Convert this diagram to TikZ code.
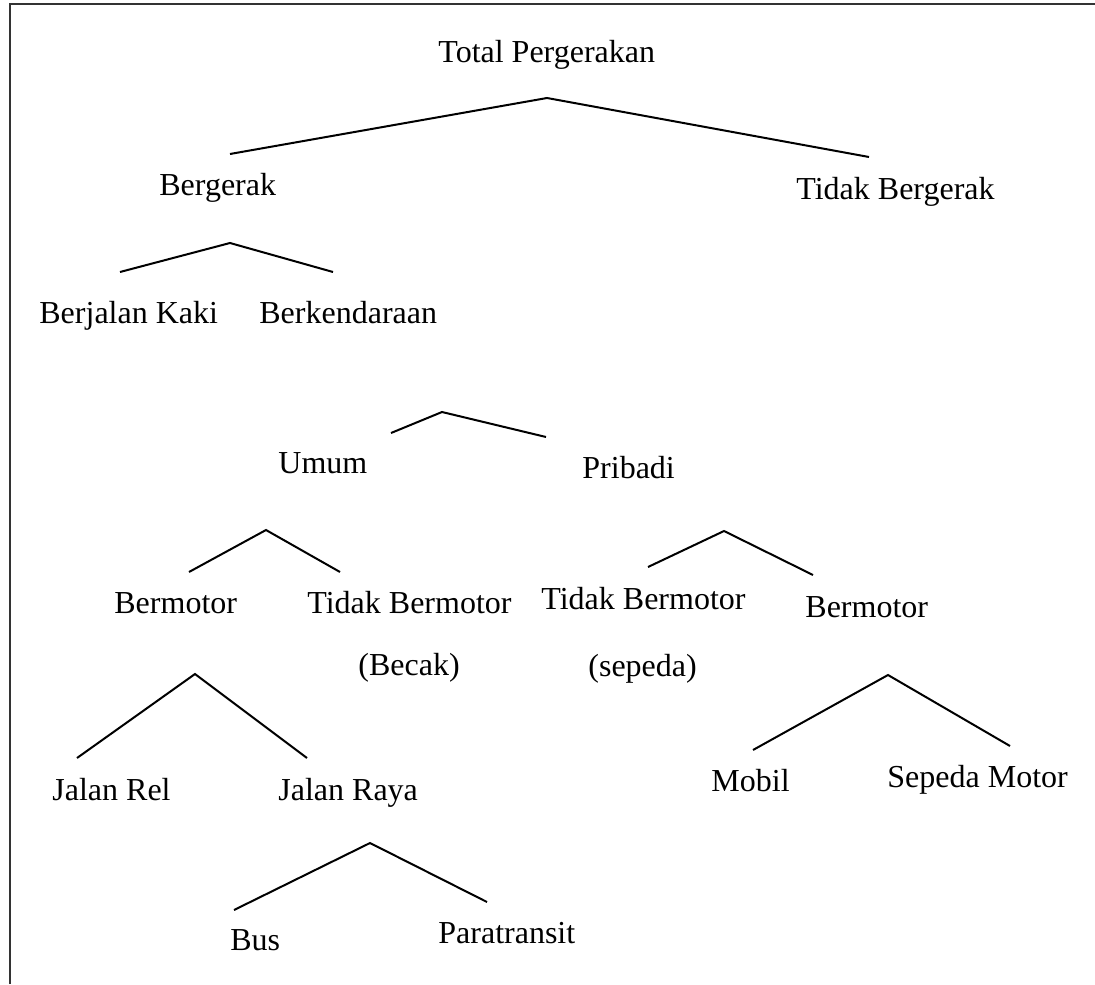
\documentclass[tikz,border=0pt]{standalone}
\usepackage{fontspec}
\setmainfont{Liberation Serif}
\usetikzlibrary{positioning}
\tikzstyle{lbl}=[anchor=base west, inner sep=0pt, font=\fontsize{16}{19}\selectfont]
\tikzstyle{fork}=[draw, line width=1pt]
\tikzstyle{frame}=[draw, line width=1.3pt, color=black!80]

\begin{document}
\begin{tikzpicture}[x=0.5pt, y=-0.5pt]
            \useasboundingbox (0,0) rectangle (1095,984);
            \draw[frame] (10,984) -- (10,4) -- (1095,4);
            % labels
            \node[lbl] (total) at (438,63) {Total Pergerakan};
            \node[lbl] (bergerak) at (159,195) {Bergerak};
            \node[lbl] (tidakbergerak) at (796,199) {Tidak Bergerak};
            \node[lbl] (jalankaki) at (39,323) {Berjalan Kaki};
            \node[lbl] (kendaraan) at (259,323) {Berkendaraan};
            \node[lbl] (umum) at (278,473) {Umum};
            \node[lbl] (pribadi) at (582,478) {Pribadi};
            \node[lbl] (umummotor) at (114,613) {Bermotor};
            \node[lbl] (umumtidak) at (307,613) {Tidak Bermotor};
            \node[lbl] (becak) at (358,675) {(Becak)};
            \node[lbl] (pribaditidak) at (541,609) {Tidak Bermotor};
            \node[lbl] (sepeda) at (588,676) {(sepeda)};
            \node[lbl] (pribadimotor) at (805,617) {Bermotor};
            \node[lbl] (jalanrel) at (52,800) {Jalan Rel};
            \node[lbl] (jalanraya) at (278,800) {Jalan Raya};
            \node[lbl] (mobil) at (711,791) {Mobil};
            \node[lbl] (sepedamotor) at (887,787) {Sepeda Motor};
            \node[lbl] (bus) at (230,950) {Bus};
            \node[lbl] (paratransit) at (438,943) {Paratransit};
            % fork points
            \coordinate (total-top) at (547,98);
            \coordinate (total-l) at (230,154);
            \coordinate (total-r) at (869,157);
            \coordinate (bergerak-top) at (230,243);
            \coordinate (bergerak-l) at (120,272);
            \coordinate (bergerak-r) at (333,272);
            \coordinate (kendaraan-top) at (442,412);
            \coordinate (kendaraan-l) at (391,433);
            \coordinate (kendaraan-r) at (546,437);
            \coordinate (umum-top) at (266,530);
            \coordinate (umum-l) at (189,572);
            \coordinate (umum-r) at (340,572);
            \coordinate (pribadi-top) at (724,531);
            \coordinate (pribadi-l) at (648,567);
            \coordinate (pribadi-r) at (813,575);
            \coordinate (umummotor-top) at (195,674);
            \coordinate (umummotor-l) at (77,758);
            \coordinate (umummotor-r) at (307,758);
            \coordinate (pribadimotor-top) at (888,675);
            \coordinate (pribadimotor-l) at (753,750);
            \coordinate (pribadimotor-r) at (1010,746);
            \coordinate (jalanraya-top) at (370,843);
            \coordinate (jalanraya-l) at (234,910);
            \coordinate (jalanraya-r) at (487,902);
            % forks
            \foreach \p in {total, bergerak, kendaraan, umum, pribadi, umummotor, pribadimotor, jalanraya}
                \draw[fork] (\p-l) -- (\p-top) -- (\p-r);
\end{tikzpicture}
\end{document}
